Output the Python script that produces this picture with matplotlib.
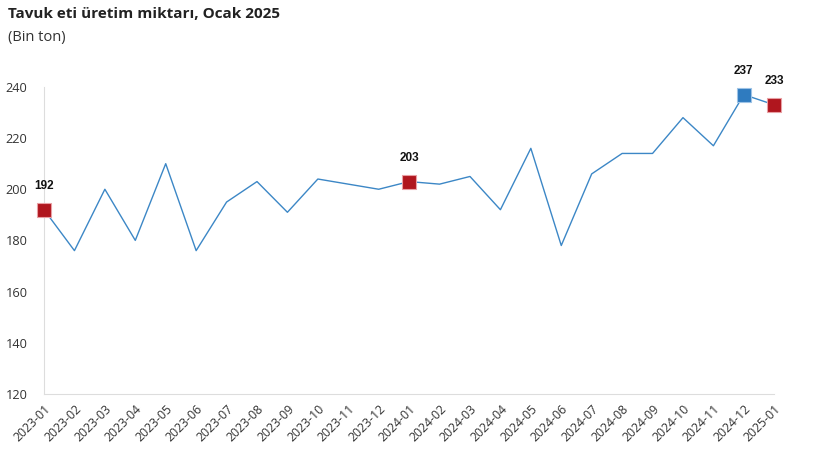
import matplotlib
matplotlib.use("Agg")
import matplotlib.pyplot as plt

months = ["2023-01","2023-02","2023-03","2023-04","2023-05","2023-06","2023-07","2023-08",
          "2023-09","2023-10","2023-11","2023-12","2024-01","2024-02","2024-03","2024-04",
          "2024-05","2024-06","2024-07","2024-08","2024-09","2024-10","2024-11","2024-12","2025-01"]
values = [192,176,200,180,210,176,195,203,191,204,202,200,203,202,205,192,216,178,206,214,214,228,217,237,233]
red_idx = [0, 12, 24]
blue_idx = [23]
yticks = [120,140,160,180,200,220,240]

line_color = "#3C87C6"
red = "#B0161E"
blue = "#2F7BBF"

fig = plt.figure(figsize=(8.15, 4.7), dpi=100)
ax = fig.add_axes([0.054, 0.162, 0.896, 0.653])
x = list(range(len(months)))
ax.plot(x, values, color=line_color, lw=1.0, zorder=2)

def mark(i, color, edge):
    ax.plot(i, values[i], marker="s", ms=10, color=color, mec=edge, mew=0.8, zorder=3,
            clip_on=False)
    ax.annotate(str(values[i]), (i, values[i]), xytext=(0, 13), textcoords="offset points",
                ha="center", va="bottom", fontsize=8.5, fontweight="bold",
                family="Liberation Sans", color="#111111")

for i in red_idx:
    mark(i, red, "#E8A0A4")
for i in blue_idx:
    mark(i, blue, "#9DC3E6")

ax.set_xlim(0, len(months) - 1)
ax.set_ylim(120, 240)
ax.set_yticks(yticks)
ax.set_xticks(x)
ax.set_xticklabels(months, rotation=45, ha="right", rotation_mode="anchor",
                   fontsize=8.8, family="Open Sans", color="#333333")
for lab in ax.get_yticklabels():
    lab.set_fontsize(9.2)
    lab.set_family("Open Sans")
    lab.set_color("#333333")
ax.tick_params(axis="both", length=0, pad=6)
ax.tick_params(axis="y", pad=12)
for s in ["top", "right"]:
    ax.spines[s].set_visible(False)
ax.spines["left"].set_color("#DDDDDD")
ax.spines["bottom"].set_color("#DDDDDD")

fig.text(0.01, 0.97, "Tavuk eti üretim miktarı, Ocak 2025", fontsize=11, fontweight="bold",
         family="Open Sans", ha="left", va="center", color="#222222")
fig.text(0.01, 0.92, "(Bin ton)", fontsize=10.5, family="Open Sans", ha="left", va="center",
         color="#333333")

fig.savefig("out.png", dpi=100)
